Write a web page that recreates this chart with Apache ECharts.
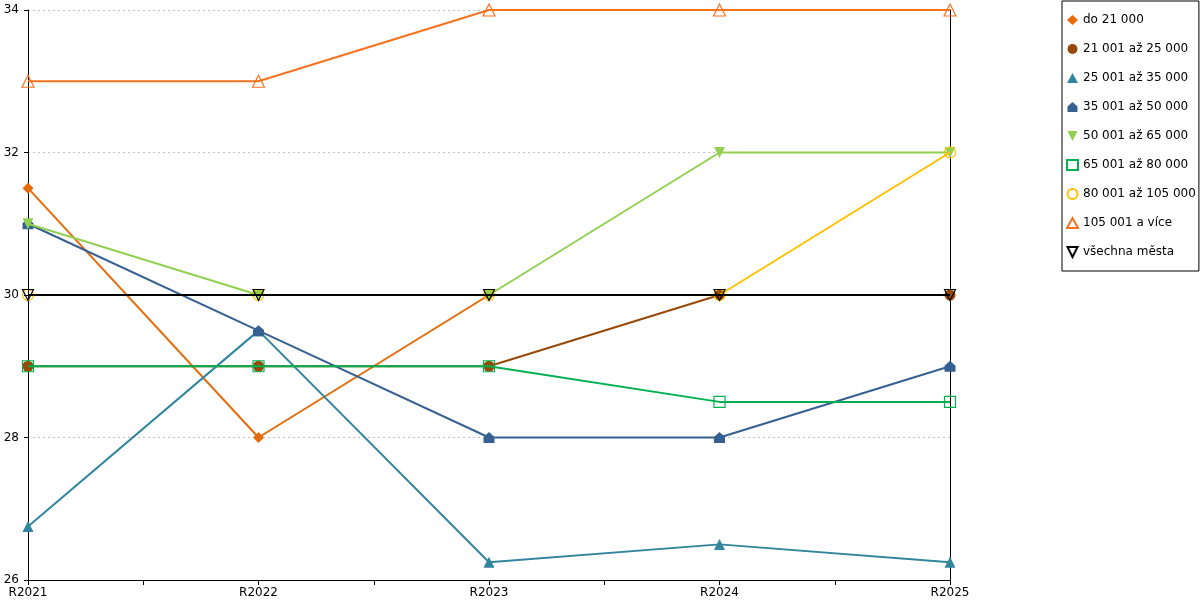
<!DOCTYPE html>
<html>
<head>
<meta charset="utf-8">
<script src="https://cdn.jsdelivr.net/npm/echarts@6/dist/echarts.min.js"></script>
<style>
  html, body { margin: 0; padding: 0; background: #fff; }
  #chart { width: 1200px; height: 600px; }
</style>
</head>
<body>
<div id="chart"></div>
<script>
// kategorie na ose x
const categories = ['R2021', 'R2022', 'R2023', 'R2024', 'R2025'];
const yTicks = [26, 28, 30, 32, 34];

// hodnoty řad
const do21000 = [31.5, 28, 30, 30, 30];
const s21001_25000 = [29, 29, 29, 30, 30];
const s25001_35000 = [26.75, 29.5, 26.25, 26.5, 26.25];
const s35001_50000 = [31, 29.5, 28, 28, 29];
const s50001_65000 = [31, 30, 30, 32, 32];
const s65001_80000 = [29, 29, 29, 28.5, 28.5];
const s80001_105000 = [30, 30, 30, 30, 32];
const s105001 = [33, 33, 34, 34, 34];
const vsechnaMesta = [30, 30, 30, 30, 30];

const names = ['do 21 000', '21 001 až 25 000', '25 001 až 35 000', '35 001 až 50 000',
  '50 001 až 65 000', '65 001 až 80 000', '80 001 až 105 000', '105 001 a více', 'všechna města'];
const values = [do21000, s21001_25000, s25001_35000, s35001_50000, s50001_65000,
  s65001_80000, s80001_105000, s105001, vsechnaMesta];

const houseIcon = 'path://M5,0 L10,4.5 L10,10 L0,10 L0,4.5 Z';
const downTri = 'path://M0,0 L10,0 L5,10 Z';

const styles = [
  { color: '#E46C0A', symbol: 'diamond', size: 11, filled: true },
  { color: '#984807', symbol: 'circle', size: 11, filled: true },
  { color: '#31859C', symbol: 'triangle', size: 11, filled: true },
  { color: '#366092', symbol: houseIcon, size: 11, filled: true },
  { color: '#92D050', symbol: downTri, size: 11, filled: true },
  { color: '#00B050', symbol: 'rect', size: 11, filled: false },
  { color: '#FFC000', symbol: 'circle', size: 11, filled: false },
  { color: '#F8721E', symbol: 'triangle', size: 12, filled: false },
  { color: '#000000', symbol: downTri, size: 11, filled: false }
];

const chart = echarts.init(document.getElementById('chart'));

const series = names.map((name, i) => {
  const st = styles[i];
  return {
    name: name,
    type: 'line',
    data: values[i].map((v, j) => [j, v]),
    symbol: st.symbol,
    symbolSize: st.size,
    showSymbol: true,
    lineStyle: { color: st.color, width: 2 },
    itemStyle: {
      color: st.filled ? st.color : 'rgba(255,255,255,0)',
      borderColor: st.color,
      borderWidth: st.filled ? 0 : 1.2
    },
    emphasis: { disabled: true },
    animation: false,
    z: 2 + i
  };
});

// pravá svislá hranice grafu
series.push({
  type: 'line',
  yAxisIndex: 1,
  data: [],
  silent: true
});

chart.setOption({
  backgroundColor: '#fff',
  textStyle: { fontFamily: 'DejaVu Sans', color: '#000' },
  grid: { left: 28, right: 250, top: 10, bottom: 20, containLabel: false },
  legend: {
    orient: 'vertical',
    left: 1062,
    top: 1,
    padding: [13, 3, 13, 4],
    itemWidth: 11,
    itemHeight: 10,
    itemGap: 17,
    borderColor: '#000',
    borderWidth: 1,
    selectedMode: false,
    textStyle: { fontFamily: 'DejaVu Sans', fontSize: 12, color: '#000' },
    data: names.map((n, i) => ({ name: n, icon: styles[i].symbol }))
  },
  xAxis: {
    type: 'value',
    min: 0,
    max: categories.length - 1,
    interval: 0.5,
    axisLine: { lineStyle: { color: '#000', width: 1 } },
    axisTick: { show: true, length: 5, lineStyle: { color: '#000' } },
    axisLabel: {
      color: '#000',
      fontSize: 12,
      margin: 7,
      showMinLabel: true,
      showMaxLabel: true,
      formatter: v => (Number.isInteger(v) ? categories[v] : '')
    },
    splitLine: { show: false }
  },
  yAxis: [{
    type: 'value',
    min: yTicks[0],
    max: yTicks[yTicks.length - 1],
    interval: 2,
    axisLine: { show: true, lineStyle: { color: '#000', width: 1 } },
    axisTick: { show: true, length: 4, lineStyle: { color: '#000' } },
    axisLabel: { color: '#000', fontSize: 12, margin: 9 },
    splitLine: { show: true, lineStyle: { color: '#BFBFBF', type: [2, 3], width: 1 } }
  }, {
    type: 'value',
    position: 'right',
    min: yTicks[0],
    max: yTicks[yTicks.length - 1],
    interval: 2,
    axisLine: { show: true, lineStyle: { color: '#000', width: 1 } },
    axisTick: { show: false },
    axisLabel: { show: false },
    splitLine: { show: false }
  }],
  series: series
});
</script>
</body>
</html>
